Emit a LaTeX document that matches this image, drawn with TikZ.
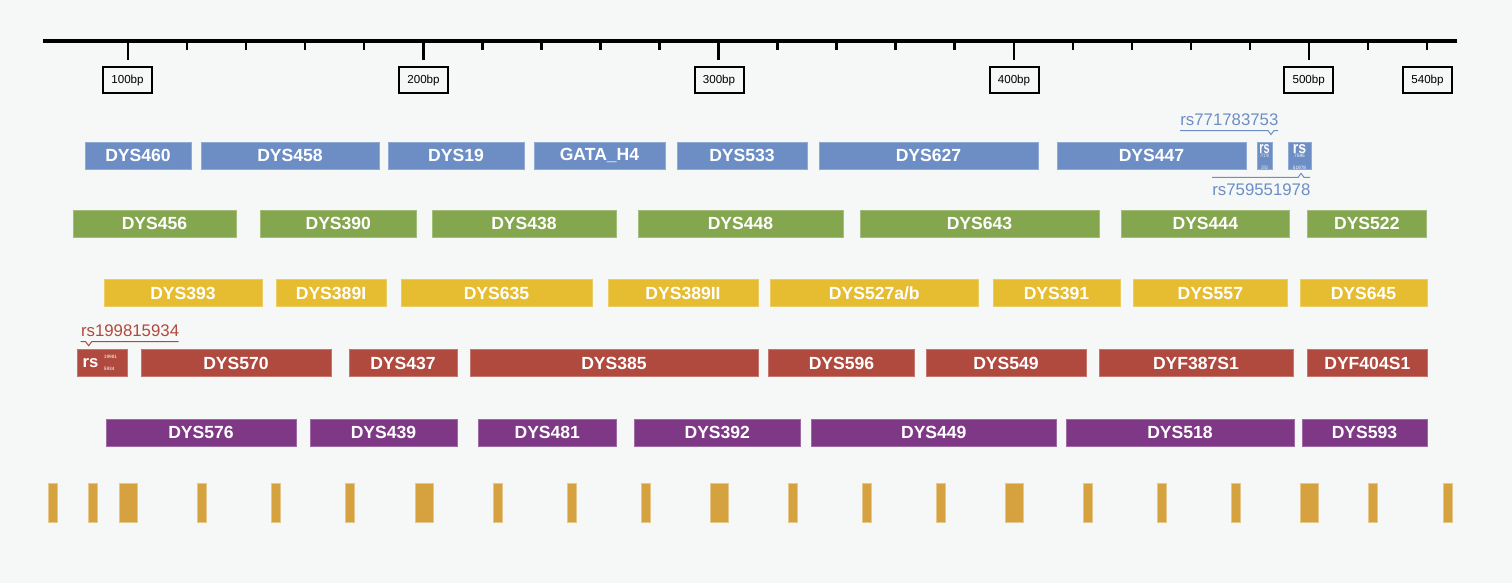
\documentclass[tikz,border=0pt]{standalone}
\usepackage{fontspec}
\setmainfont{Liberation Sans}
\usepackage{graphicx}

\definecolor{bgcol}{HTML}{F6F8F7}
\definecolor{strblue}{HTML}{6C8EC4}
\definecolor{strgreen}{HTML}{84A64E}
\definecolor{stryellow}{HTML}{E6BD31}
\definecolor{strred}{HTML}{B04A3F}
\definecolor{strpurple}{HTML}{7E3886}
\definecolor{snpgold}{HTML}{D6A240}

\newcommand{\rsbig}{\fontsize{9.5}{9.5}\selectfont\bfseries}
\newcommand{\rstiny}{\fontsize{2.7}{3}\selectfont}

\tikzset{
	locus/.style={fill=#1,draw=#1!75!white,line width=0.3pt,text=white,font=\bfseries,
		minimum height=0.54cm,inner sep=0pt},
	rstext/.style={inner sep=0pt,text=white},
	rslabel/.style={inner sep=0pt,text=#1,font=\fontsize{9.56}{11}\selectfont},
	callout/.style={draw=#1,line width=0.02cm}
}

\begin{document}
\begin{tikzpicture}[x=0.02cm,y=-0.02cm]
			\fill[bgcol] (0,0) rectangle (1512,583);
			\useasboundingbox (0,0) rectangle (1512,583);
			
			% ruler
			\draw[line width=0.08cm] (43,40.5) -- (1457,40.5);
			\foreach \bp in {120,140,...,540}
				\draw[line width=0.05cm] ({128+(\bp-100)*2.9525},42) -- ++(0,8);
			\foreach \bp in {100,200,...,500}
				\draw[line width=0.05cm] ({128+(\bp-100)*2.9525},42) -- ++(0,18);
			
			\begin{scope}[every node/.style={draw=black,line width=0.04cm,minimum width=0.98cm,
					minimum height=0.52cm,inner sep=0pt,font=\fontsize{6.6}{7}\selectfont}]
				\node (bp100) at (127.5,80) {100bp};
				\node (bp200) at (423.5,80) {200bp};
				\node (bp300) at (719,80) {300bp};
				\node (bp400) at (1014,80) {400bp};
				\node (bp500) at (1308.7,80) {500bp};
				\node (bp540) at (1427.5,80) {540bp};
			\end{scope}
			
			\begin{scope}[every node/.style={locus=strblue}]
				\node[minimum width=2.12cm] (dys460) at (138,155.5) {DYS460};
				\node[minimum width=3.56cm] (dys458) at (290,155.5) {DYS458};
				\node[minimum width=2.72cm] (dys19) at (456,155.5) {DYS19};
				\node[minimum width=2.62cm] (gatah4) at (599.5,155.5) {GATA\_H4};
				\node[minimum width=2.60cm] (dys533) at (742,155.5) {DYS533};
				\node[minimum width=4.38cm] (dys627) at (928.5,155.5) {DYS627};
				\node[minimum width=3.78cm] (dys447) at (1151.5,155.5) {DYS447};
				\node[minimum width=0.30cm] (rs771) at (1264.5,155.5) {};
				\node[minimum width=0.46cm] (rs759) at (1299.5,155.5) {};
			\end{scope}
			
			\node[rstext] (rs771t) at (1264.5,149.3) {\scalebox{0.65}[1]{\rsbig rs}};
			\node[rstext,font=\rstiny] (rs771n) at (1264.5,161.8) {\scalebox{0.65}[1]{\shortstack{77178\\[1.8pt]3753}}};
			\node[rstext] (rs759t) at (1299.5,149.3) {\scalebox{0.85}[1]{\rsbig rs}};
			\node[rstext,font=\rstiny] (rs759n) at (1299.5,161.8) {\shortstack{7595\\[1.8pt]51978}};
			
			\node[rslabel=strblue,anchor=base west] (rs771lab) at (1180,125) {rs771783753};
			\draw[callout=strblue] (rs771lab.south west) ++(0,5) -- ++(88,0) -- ++(3,4) -- ++(3,-4) -- ++(4,0);
			\node[rslabel=strblue,anchor=base west] (rs759lab) at (1212,195) {rs759551978};
			\draw[callout=strblue] (rs759lab.north west) ++(0,-5.5) -- ++(86,0) -- ++(3,-4) -- ++(3,4) -- ++(6,0);
			
			\begin{scope}[every node/.style={locus=strgreen}]
				\node[minimum width=3.26cm] (dys456) at (154.5,223.7) {DYS456};
				\node[minimum width=3.13cm] (dys390) at (338.3,223.7) {DYS390};
				\node[minimum width=3.68cm] (dys438) at (524,223.7) {DYS438};
				\node[minimum width=4.10cm] (dys448) at (740.5,223.7) {DYS448};
				\node[minimum width=4.78cm] (dys643) at (979.5,223.7) {DYS643};
				\node[minimum width=3.37cm] (dys444) at (1205.3,223.7) {DYS444};
				\node[minimum width=2.37cm] (dys522) at (1366.8,223.7) {DYS522};
			\end{scope}
			
			\begin{scope}[every node/.style={locus=stryellow}]
				\node[minimum width=3.16cm] (dys393) at (183,293.2) {DYS393};
				\node[minimum width=2.20cm] (dys389i) at (331,293.2) {DYS389I};
				\node[minimum width=3.82cm] (dys635) at (496.5,293.2) {DYS635};
				\node[minimum width=3.00cm] (dys389ii) at (683,293.2) {DYS389II};
				\node[minimum width=4.15cm] (dys527) at (874.3,293.2) {DYS527a/b};
				\node[minimum width=2.54cm] (dys391) at (1056.5,293.2) {DYS391};
				\node[minimum width=3.07cm] (dys557) at (1210.3,293.2) {DYS557};
				\node[minimum width=2.54cm] (dys645) at (1363.5,293.2) {DYS645};
			\end{scope}
			
			\node[rslabel=strred,anchor=base west] (rs199lab) at (80.7,336.7) {rs199815934};
			\draw[callout=strred] (rs199lab.south west) ++(0,4.5) -- ++(5,0) -- ++(3,4) -- ++(3,-4) -- ++(87,0);
			
			\begin{scope}[every node/.style={locus=strred}]
				\node[minimum width=1.00cm] (rs199) at (102.6,363) {};
				\node[minimum width=3.80cm] (dys570) at (236,363) {DYS570};
				\node[minimum width=2.16cm] (dys437) at (403,363) {DYS437};
				\node[minimum width=5.76cm] (dys385) at (614,363) {DYS385};
				\node[minimum width=2.92cm] (dys596) at (841.5,363) {DYS596};
				\node[minimum width=3.20cm] (dys549) at (1006,363) {DYS549};
				\node[minimum width=3.88cm] (dyf387) at (1196,363) {DYF387S1};
				\node[minimum width=2.39cm] (dyf404) at (1367.3,363) {DYF404S1};
			\end{scope}
			
			\node[rstext,font=\rsbig] (rs199t) at (90.5,363) {rs};
			\node[rstext,font=\rstiny] (rs199n) at (110.5,363) {\shortstack[l]{19981\\[1.8pt]5934}};
			
			\begin{scope}[every node/.style={locus=strpurple}]
				\node[minimum width=3.80cm] (dys576) at (201,432.9) {DYS576};
				\node[minimum width=2.94cm] (dys439) at (383.5,432.9) {DYS439};
				\node[minimum width=2.75cm] (dys481) at (547.3,432.9) {DYS481};
				\node[minimum width=3.31cm] (dys392) at (717.3,432.9) {DYS392};
				\node[minimum width=4.91cm] (dys449) at (933.8,432.9) {DYS449};
				\node[minimum width=4.56cm] (dys518) at (1180,432.9) {DYS518};
				\node[minimum width=2.50cm] (dys593) at (1364.5,432.9) {DYS593};
			\end{scope}
			
			% snp marks
			\foreach \xc/\w [count=\i] in {52.8/9,92.5/9,128/18,201.5/9,275.5/9,349.5/9,424/18,
					497.5/9,571.5/9,645.5/9,719/18,792.5/9,866.5/9,940.5/9,1014/18,1087.5/9,
					1161.5/9,1235.5/9,1309/18,1373/9,1447.5/9}
				\node[fill=snpgold,draw=snpgold!60!white,line width=0.3pt,inner sep=0pt,
					minimum width=\w*0.02cm,minimum height=0.79cm] (snp\i) at (\xc,503) {};
		\end{tikzpicture}
\end{document}
